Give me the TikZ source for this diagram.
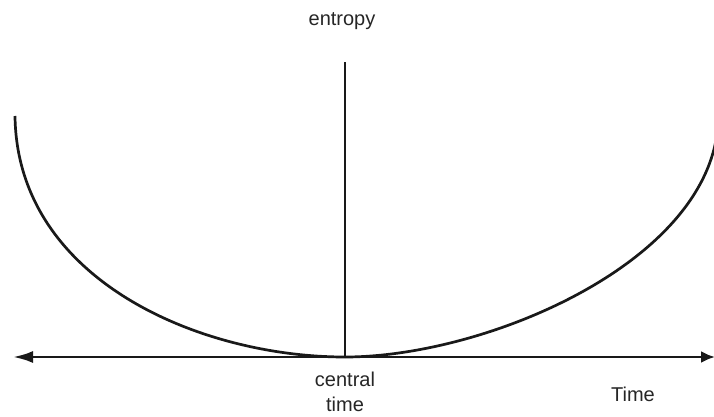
\documentclass[tikz,border=0pt]{standalone}
\usepackage{fontspec}
\setmainfont{Liberation Sans}
\usetikzlibrary{arrows.meta, positioning}
\tikzset{
    axisline/.style={line width=2.8pt, draw=black!90, {Latex[length=20pt,width=12pt]}-{Latex[length=14pt,width=12pt]}},
    curveline/.style={line width=2.7pt, draw=black!90},
    axislabel/.style={font=\fontsize{20}{25}\selectfont, text=black!85, inner sep=0pt},
}
\begin{document}
\begin{tikzpicture}[x=1pt, y=-1pt]
    \useasboundingbox (0,0) rectangle (714,417);

    % Axes
    \coordinate (tleft) at (13,357);
    \coordinate (tright) at (715,357);
    \coordinate (origin) at (345,357);
    \coordinate (etop) at (345,62);
    \coordinate (lstart) at (15,116);
    \coordinate (rend) at (716,140);
    \draw[axisline] (tleft) -- (tright);
    \draw[curveline] (origin) -- (etop);

    % Entropy curves
    \draw[curveline] (lstart) .. controls (17,280) and (200,357) .. (origin);
    \draw[curveline] (origin) .. controls (480,357) and (692,270) .. (rend);

    % Labels
    \node[axislabel, anchor=base] (entropy) at (342,26) {entropy};
    \node[axislabel, align=center, anchor=north] (central) at (345,372) {central\\time};
    \node[axislabel, anchor=base] (time) at (633,401) {Time};
\end{tikzpicture}
\end{document}
